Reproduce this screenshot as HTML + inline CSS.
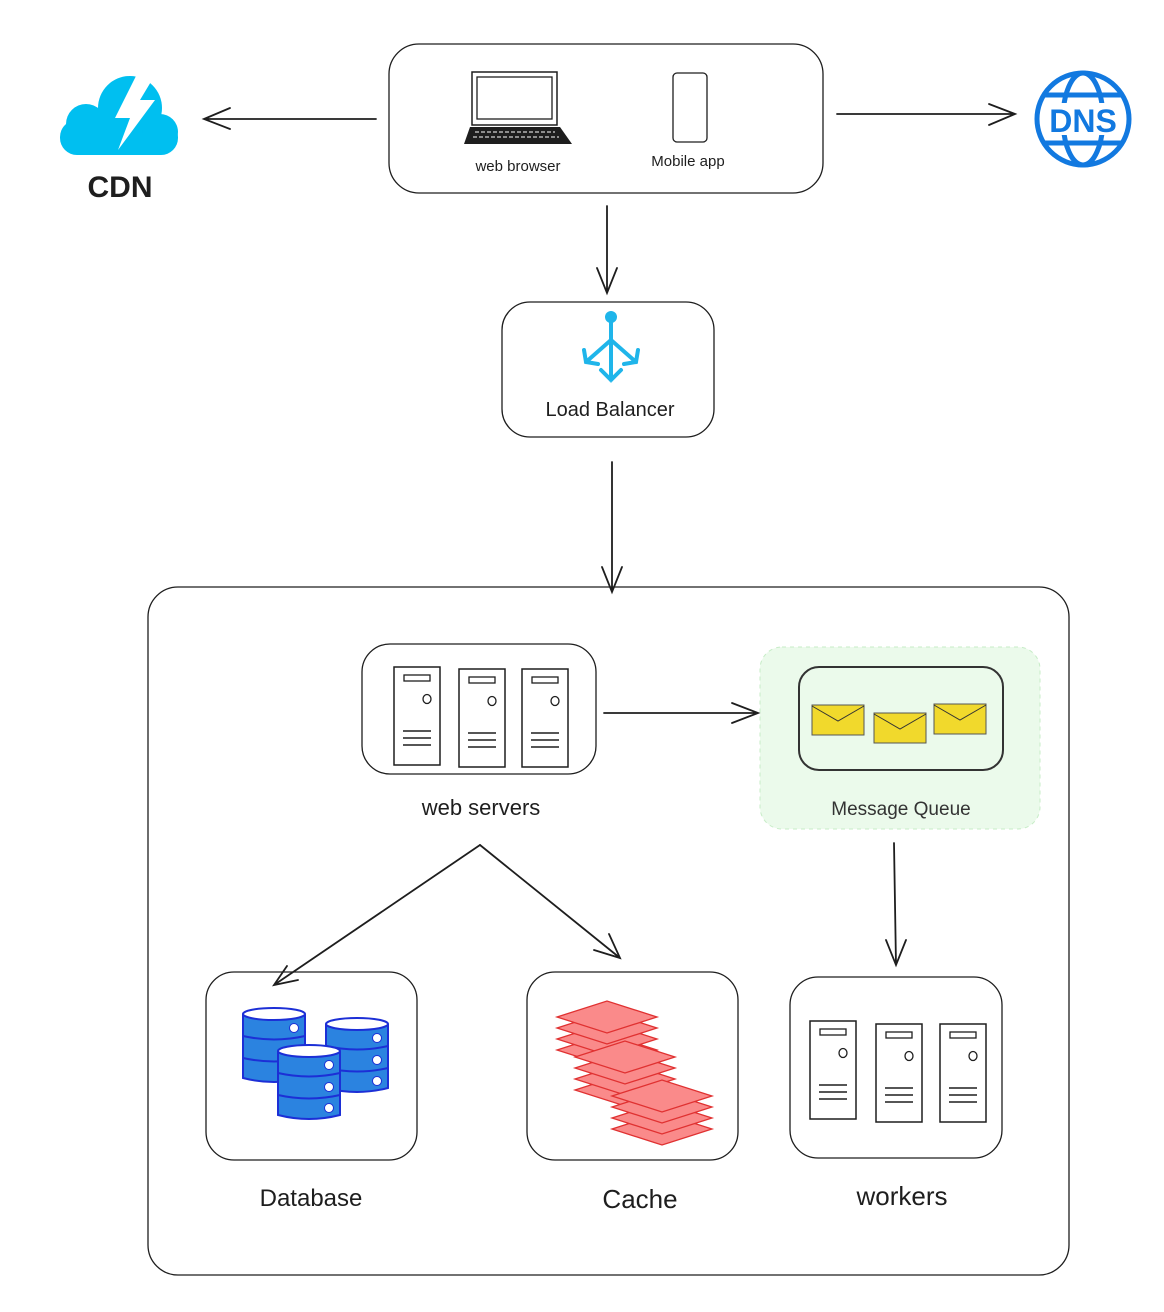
<!DOCTYPE html>
<html><head><meta charset="utf-8"><style>
html,body{margin:0;padding:0;background:#fff;width:1164px;height:1312px;overflow:hidden}
text{font-family:"Liberation Sans",sans-serif;fill:#1e1e1e}
</style></head><body>
<svg width="1164" height="1312" viewBox="0 0 1164 1312" xmlns="http://www.w3.org/2000/svg">
<defs>
<g id="tower"><rect x="0" y="0" width="46" height="98" fill="#fff" stroke="#1e1e1e" stroke-width="1.5"/><rect x="10" y="8" width="26" height="6" fill="none" stroke="#1e1e1e" stroke-width="1.3"/><ellipse cx="33" cy="32" rx="4" ry="4.5" fill="none" stroke="#1e1e1e" stroke-width="1.3"/><path d="M9 64h28M9 71h28M9 78h28" stroke="#1e1e1e" stroke-width="1.5"/></g>
<g id="env"><rect x="0" y="0" width="52" height="30" fill="#f1d92c" stroke="#555" stroke-width="1"/><path d="M0 1 L26 16 L52 1" fill="none" stroke="#333" stroke-width="1"/></g>
<g id="sheet"><path d="M-50 0 L0 -16 L50 0 L0 16 Z" fill="#fa8a8a" stroke="#e03131" stroke-width="1.3"/></g>
<g id="stack"><use href="#sheet" y="33"/><use href="#sheet" y="22"/><use href="#sheet" y="11"/><use href="#sheet" y="0"/></g>
<g id="cyl"><path d="M0 6 v64 q31 8 62 0 v-64" fill="#2b83e0" stroke="#1c2fd6" stroke-width="2"/><ellipse cx="31" cy="6" rx="31" ry="6" fill="#fff" stroke="#1c2fd6" stroke-width="2"/><path d="M0 28 q31 7 62 0 M0 50 q31 7 62 0" fill="none" stroke="#1c2fd6" stroke-width="2"/><circle cx="51" cy="20" r="4.5" fill="#fff" stroke="#1c2fd6"/><circle cx="51" cy="42" r="4.5" fill="#fff" stroke="#1c2fd6"/><circle cx="51" cy="63" r="4.5" fill="#fff" stroke="#1c2fd6"/></g>
</defs>
<g fill="none" stroke="#1e1e1e" stroke-width="1.3">
<rect x="389" y="44" width="434" height="149" rx="30"/>
<rect x="502" y="302" width="212" height="135" rx="28"/>
<rect x="148" y="587" width="921" height="688" rx="30"/>
<rect x="362" y="644" width="234" height="130" rx="28"/>
<rect x="206" y="972" width="211" height="188" rx="28"/>
<rect x="527" y="972" width="211" height="188" rx="28"/>
<rect x="790" y="977" width="212" height="181" rx="28"/>
</g>
<rect x="760" y="647" width="280" height="182" rx="22" fill="#ebfaeb" stroke="#c7ecc7" stroke-dasharray="4 4"/>
<rect x="799" y="667" width="204" height="103" rx="20" fill="none" stroke="#333" stroke-width="2"/>
<use href="#env" x="812" y="705"/><use href="#env" x="874" y="713"/><use href="#env" x="934" y="704"/>
<g fill="none" stroke="#1e1e1e" stroke-width="1.8" stroke-linecap="round">
<path d="M376 119 H204 M230 108 L204 119 L230 129"/>
<path d="M837 114 H1015 M989 104 L1015 114 L989 125"/>
<path d="M607 206 V293 M597 268 L607 293 L617 268"/>
<path d="M612 462 V592 M602 567 L612 592 L622 567"/>
<path d="M604 713 H758 M732 703 L758 713 L732 723"/>
<path d="M480 845 L274 985 M287 966 L274 985 L298 980"/>
<path d="M480 845 L620 958 M594 950 L620 958 L609 934"/>
<path d="M894 843 L896 965 M886 940 L896 965 L906 940"/>
</g>
<rect x="472" y="72" width="85" height="53" fill="#fff" stroke="#1e1e1e" stroke-width="1.5"/>
<rect x="477" y="77" width="75" height="42" fill="none" stroke="#1e1e1e" stroke-width="1.3"/>
<path d="M470 127 H560 L572 144 H464 Z" fill="#1e1e1e"/>
<path d="M475 132h80M473 137h86" stroke="#fff" stroke-width="1" stroke-dasharray="4 2"/>
<rect x="673" y="73" width="34" height="69" rx="4" fill="#fff" stroke="#1e1e1e" stroke-width="1.3"/>
<text x="518" y="171" font-size="15" text-anchor="middle">web browser</text>
<text x="688" y="166" font-size="15" text-anchor="middle">Mobile app</text>
<g fill="#00bff0">
<rect x="60" y="120" width="118" height="35" rx="17"/>
<circle cx="86" cy="124" r="20"/>
<circle cx="130" cy="108" r="32"/>
<circle cx="160" cy="132" r="18"/>
</g>
<path d="M136 76 L115 118 L130 118 L118 150 L155 100 L140 100 L152 80 Z" fill="#fff"/>
<text x="120" y="197" font-size="30" text-anchor="middle" font-weight="bold">CDN</text>
<g fill="none" stroke="#1279e0" stroke-width="5">
<circle cx="1083" cy="119" r="46"/>
<ellipse cx="1083" cy="119" rx="20" ry="46"/>
<path d="M1045 95 H1121 M1045 143 H1121"/>
</g>
<rect x="1044" y="103" width="78" height="32" fill="#fff"/>
<text x="1083" y="132" font-size="32" text-anchor="middle" style="fill:#1279e0" font-weight="bold">DNS</text>
<g fill="none" stroke="#1fb5ea" stroke-width="4" stroke-linecap="round">
<path d="M611 318 V380 M601 370 L611 380 L621 370 M611 340 L586 362 M584 350 L586 362 L598 364 M611 340 L636 362 M638 350 L636 362 L624 364"/>
</g>
<circle cx="611" cy="317" r="6" fill="#1fb5ea"/>
<text x="610" y="416" font-size="20" text-anchor="middle">Load Balancer</text>
<use href="#tower" x="394" y="667"/><use href="#tower" x="459" y="669"/><use href="#tower" x="522" y="669"/>
<text x="481" y="815" font-size="22" text-anchor="middle">web servers</text>
<text x="901" y="815" font-size="19" text-anchor="middle" style="fill:#333">Message Queue</text>
<use href="#cyl" x="243" y="1008"/><use href="#cyl" x="326" y="1018"/><use href="#cyl" x="278" y="1045"/>
<use href="#stack" x="607" y="1017"/><use href="#stack" x="625" y="1057"/><use href="#stack" x="662" y="1096"/>
<use href="#tower" x="810" y="1021"/><use href="#tower" x="876" y="1024"/><use href="#tower" x="940" y="1024"/>
<text x="311" y="1206" font-size="24" text-anchor="middle">Database</text>
<text x="640" y="1208" font-size="26" text-anchor="middle">Cache</text>
<text x="902" y="1205" font-size="26" text-anchor="middle">workers</text>
</svg>
</body></html>
